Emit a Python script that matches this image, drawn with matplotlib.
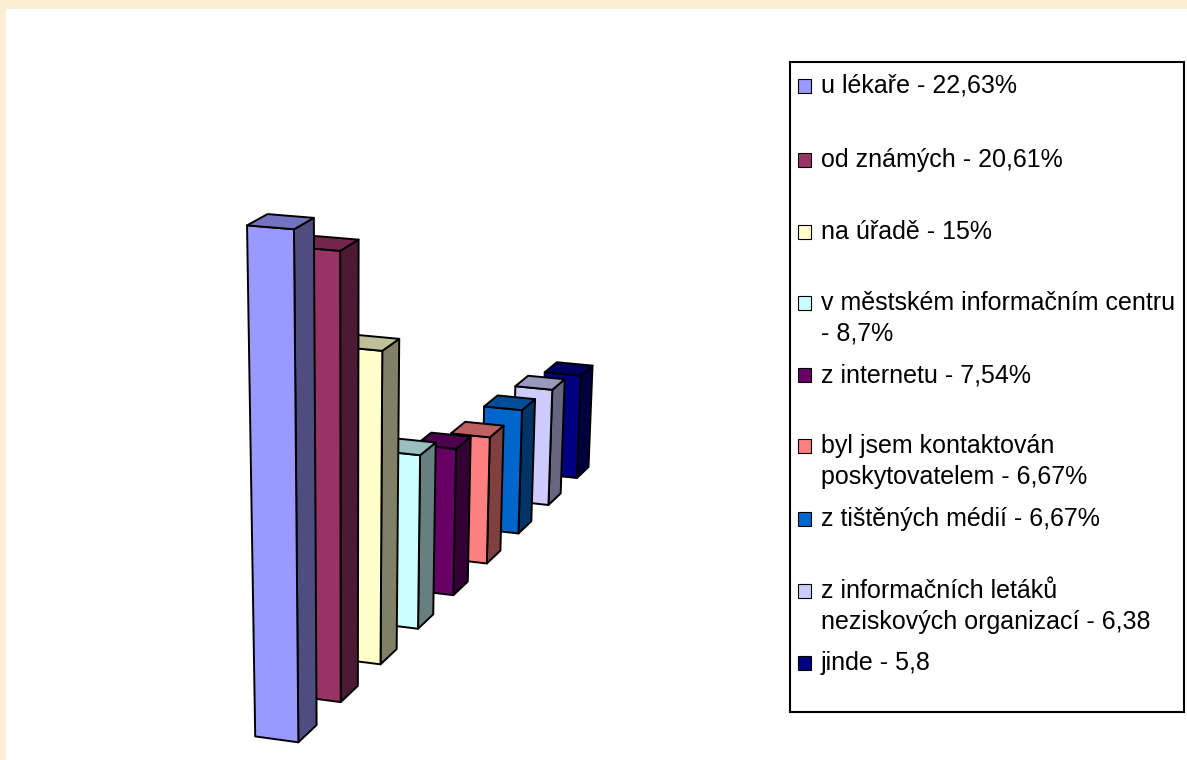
import numpy as np
import matplotlib
matplotlib.use("Agg")
import matplotlib.pyplot as plt
from matplotlib.colors import to_rgb
from matplotlib.patches import Rectangle
from mpl_toolkits.mplot3d.art3d import Poly3DCollection

# Where respondents learned about the service (share of answers, %)
categories = [
    "u lékaře",
    "od známých",
    "na úřadě",
    "v městském informačním centru",
    "z internetu",
    "byl jsem kontaktován poskytovatelem",
    "z tištěných médií",
    "z informačních letáků neziskových organizací",
    "jinde",
]
values = [22.63, 20.61, 15, 8.7, 7.54, 6.67, 6.67, 6.38, 5.8]
# legend text as wrapped in the legend box
legend_lines = [
    ["u lékaře - 22,63%"],
    ["od známých - 20,61%"],
    ["na úřadě - 15%"],
    ["v městském informačním centru", "- 8,7%"],
    ["z internetu - 7,54%"],
    ["byl jsem kontaktován", "poskytovatelem - 6,67%"],
    ["z tištěných médií - 6,67%"],
    ["z informačních letáků", "neziskových organizací - 6,38"],
    ["jinde - 5,8"],
]
colors = ["#9999FF", "#993366", "#FFFFCC", "#CCFFFF", "#660066",
          "#FF8080", "#0066CC", "#CCCCFF", "#000080"]

plt.rcParams["font.family"] = ["Liberation Sans", "DejaVu Sans"]

W, H = 1187, 760
fig = plt.figure(figsize=(W / 100, H / 100), dpi=100)
fig.patch.set_facecolor("#FCEFD6")
# white chart area inside the cream frame
fig.add_artist(Rectangle((6 / W, 0), 1, 1 - 9 / H, transform=fig.transFigure,
                         facecolor="white", edgecolor="none", zorder=0))

# ---- 3D columns, one series per depth row (units: bar widths) ----
BAR_W, BAR_D, STEP = 1.0, 1.1, 2.6
Z_UNIT = 0.475          # height of 1 % in bar-width units
ELEV, AZIM = 30, -69.6  # camera pitch / rotation
AIM = (9.12, -18.77)    # floor point the camera looks at
CAM_DIST = 48.4         # camera distance from that point
F_PX = 3072.0           # focal length in pixels
PP = (348, 1217)        # pixel position of the aim point (from top-left)

n = len(values)
y_end = (n - 1) * STEP + BAR_D
hx = max(abs(AIM[0]), abs(BAR_W - AIM[0])) + 1
hy = max(abs(AIM[1]), abs(y_end - AIM[1])) + 1
hz = max(values) + 1

ax = fig.add_axes([0.1, 0.1, 0.3, 0.3], projection="3d")
ax.computed_zorder = False
ax.set_axis_off()
ax.patch.set_alpha(0)
ax.set_xlim(AIM[0] - hx, AIM[0] + hx)
ax.set_ylim(AIM[1] - hy, AIM[1] + hy)
ax.set_zlim(-hz, hz)
ax.set_box_aspect((2 * hx, 2 * hy, 2 * hz * Z_UNIT), zoom=4.0)
ax.view_init(elev=ELEV, azim=AZIM)

# camera placed CAM_DIST bar widths away from the aim point
unit = ax._box_aspect[0] / (2 * hx)          # normalised units per bar width
eye_base = getattr(ax, "_dist", 10)
focal = CAM_DIST * unit / eye_base
ax.set_proj_type("persp", focal_length=focal)


def shade(c, f):
    r, g, b = to_rgb(c)
    return (r * f, g * f, b * f)


for i in range(n - 1, -1, -1):
    h = values[i]
    x0, x1 = 0.0, BAR_W
    y0, y1 = i * STEP, i * STEP + BAR_D
    front = [(x0, y0, 0), (x1, y0, 0), (x1, y0, h), (x0, y0, h)]
    side = [(x1, y0, 0), (x1, y1, 0), (x1, y1, h), (x1, y0, h)]
    top = [(x0, y0, h), (x1, y0, h), (x1, y1, h), (x0, y1, h)]
    pc = Poly3DCollection([front, side, top],
                          facecolors=[colors[i], shade(colors[i], 0.5), shade(colors[i], 0.75)],
                          edgecolors="black", linewidths=1.4)
    pc.set_zorder(10 + (n - i))
    pc.set_clip_on(False)
    ax.add_collection3d(pc)

# size the panel so the projection has the wanted focal length in pixels
fig.canvas.draw()
vl = ax.viewLim
k = F_PX / focal
left = PP[0] - k * (0 - vl.x0)
bottom = (H - PP[1]) - k * (0 - vl.y0)
ax.set_position([left / W, bottom / H, k * vl.width / W, k * vl.height / H])

# ---- legend box ----
fig.add_artist(Rectangle((790 / W, 1 - 712 / H), 394 / W, 650 / H, transform=fig.transFigure,
                         facecolor="white", edgecolor="black", linewidth=1.5, zorder=5))
baselines = [93, 167, 239, 310, 382, 453, 526, 598, 670]
for lines, base, col in zip(legend_lines, baselines, colors):
    fig.add_artist(Rectangle((798 / W, 1 - base / H), 13 / W, 14 / H, transform=fig.transFigure,
                             facecolor=col, edgecolor="black", linewidth=0.8, zorder=6))
    for k_, txt in enumerate(lines):
        fig.text(821 / W, 1 - (base + 31 * k_) / H, txt, fontsize=18, va="baseline",
                 ha="left", color="black", zorder=7)

fig.savefig("out.png", dpi=100, facecolor=fig.get_facecolor())
